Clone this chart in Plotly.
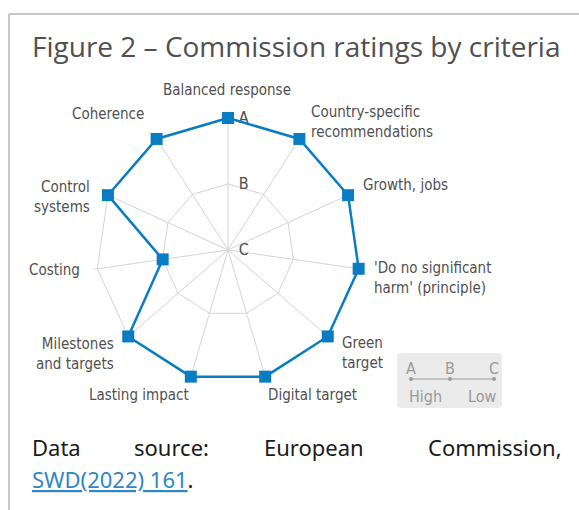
import plotly.graph_objects as go

W, H = 579, 510

categories = [
    "Balanced response",
    "Country-specific recommendations",
    "Growth, jobs",
    "'Do no significant harm' (principle)",
    "Green target",
    "Digital target",
    "Lasting impact",
    "Milestones and targets",
    "Costing",
    "Control systems",
    "Coherence",
]
# label text as printed (line breaks)
category_labels = [
    "Balanced response",
    "Country-specific<br>recommendations",
    "Growth, jobs",
    "'Do no significant<br>harm' (principle)",
    "Green<br>target",
    "Digital target",
    "Lasting impact",
    "Milestones<br>and targets",
    "Costing",
    "Control<br>systems",
    "Coherence",
]
ratings = ["A", "A", "A", "A", "A", "A", "A", "A", "B", "A", "A"]
scale_letters = ["C", "B", "A"]  # low -> high
scale_values = [0, 1, 2]

score = dict(zip(scale_letters, scale_values))
r_vals = [score[g] for g in ratings]

BLUE = "#0a7dc2"
GRID = "#d4d4d4"
TXT = "#505050"
NARROW = "DejaVu Sans Condensed, Liberation Sans Narrow, Roboto, sans-serif"

def px(x):
    return x / W

def py(y):
    return 1 - y / H

R_MAX = 2.05                # small headroom so the outer line is not clipped
cx, cy = 228, 250
rad = 132 * R_MAX / 2

fig = go.Figure()
fig.add_trace(go.Scatterpolar(
    r=r_vals + r_vals[:1],
    theta=categories + categories[:1],
    mode="lines+markers",
    line=dict(color=BLUE, width=2.5),
    marker=dict(symbol="square", size=12, color=BLUE),
    cliponaxis=False,
    hoverinfo="skip",
    showlegend=False,
))

fig.update_layout(
    width=W, height=H,
    margin=dict(l=0, r=0, t=0, b=0),
    paper_bgcolor="white",
    plot_bgcolor="white",
    showlegend=False,
    polar=dict(
        domain=dict(x=[px(cx - rad), px(cx + rad)], y=[py(cy + rad), py(cy - rad)]),
        bgcolor="rgba(0,0,0,0)",
        gridshape="linear",
        angularaxis=dict(
            direction="clockwise",
            rotation=90,
            showline=False,
            gridcolor=GRID,
            gridwidth=1,
            ticks="",
            showticklabels=False,
            layer="below traces",
        ),
        radialaxis=dict(
            range=[0, R_MAX],
            tickvals=scale_values,
            ticktext=scale_letters,
            angle=90,
            showline=False,
            gridcolor=GRID,
            gridwidth=1,
            ticks="outside",
            ticklen=7,
            tickcolor="rgba(0,0,0,0)",
            tickangle=90,
            tickfont=dict(family=NARROW, size=16, color=TXT),
            layer="below traces",
        ),
    ),
)

# category labels placed around the radar (x, y in px, horizontal anchor)
label_layout = [
    (227, 90, "center"),
    (309, 122, "left"),
    (361, 185, "left"),
    (372, 278, "left"),
    (340, 353, "left"),
    (312, 395, "center"),
    (139, 395, "center"),
    (116, 354, "right"),
    (82, 270, "right"),
    (92, 197, "right"),
    (146, 114, "right"),
]
for text, (lx, ly, anc) in zip(category_labels, label_layout):
    fig.add_annotation(x=px(lx), y=py(ly), xref="paper", yref="paper", text=text, showarrow=False,
                       xanchor=anc, yanchor="middle", align=anc,
                       font=dict(family=NARROW, size=15, color=TXT))

# frame
fig.add_shape(type="line", xref="paper", yref="paper", x0=px(9), x1=1, y0=py(14), y1=py(14),
              line=dict(color="#c8c8c8", width=2))
fig.add_shape(type="line", xref="paper", yref="paper", x0=px(9), x1=px(9), y0=py(14), y1=0,
              line=dict(color="#c8c8c8", width=2))

# title
fig.add_annotation(x=px(30), y=py(46), xref="paper", yref="paper", xanchor="left", yanchor="middle",
                   text="Figure 2 – Commission ratings by criteria", showarrow=False,
                   font=dict(family="Open Sans, sans-serif", size=28, color=TXT))

# legend box
x0, x1, y0, y1, rr = 397, 502, 353, 408, 4
path = (f"M {px(x0+rr)} {py(y0)} L {px(x1-rr)} {py(y0)} Q {px(x1)} {py(y0)} {px(x1)} {py(y0+rr)} "
        f"L {px(x1)} {py(y1-rr)} Q {px(x1)} {py(y1)} {px(x1-rr)} {py(y1)} "
        f"L {px(x0+rr)} {py(y1)} Q {px(x0)} {py(y1)} {px(x0)} {py(y1-rr)} "
        f"L {px(x0)} {py(y0+rr)} Q {px(x0)} {py(y0)} {px(x0+rr)} {py(y0)} Z")
fig.add_shape(type="path", xref="paper", yref="paper", path=path, fillcolor="#ebebeb",
              line=dict(width=0), layer="below")
LG = "#9a9a9a"
fig.add_shape(type="line", xref="paper", yref="paper", x0=px(411), x1=px(494), y0=py(379), y1=py(379),
              line=dict(color=LG, width=1))
legend_x = [411, 450, 494]
for lx, letter in zip(legend_x, ["A", "B", "C"]):
    fig.add_shape(type="circle", xref="paper", yref="paper", x0=px(lx - 2), x1=px(lx + 2),
                  y0=py(381), y1=py(377), fillcolor=LG, line=dict(width=0))
    fig.add_annotation(x=px(lx), y=py(368), xref="paper", yref="paper", text=letter, showarrow=False,
                       font=dict(family=NARROW, size=16, color=LG), xanchor="center", yanchor="middle")
fig.add_annotation(x=px(407), y=py(396), xref="paper", yref="paper", text="High", showarrow=False,
                   font=dict(family=NARROW, size=16, color=LG), xanchor="left", yanchor="middle")
fig.add_annotation(x=px(499), y=py(396), xref="paper", yref="paper", text="Low", showarrow=False,
                   font=dict(family=NARROW, size=16, color=LG), xanchor="right", yanchor="middle")

# footer (justified first line)
FOOT = dict(family="Noto Sans, sans-serif", size=22, color="#1a1a1a")
for word, wx, anc in [("Data", 30, "left"), ("source:", 132, "left"),
                      ("European", 262, "left"), ("Commission,", 564, "right")]:
    fig.add_annotation(x=px(wx), y=py(447), xref="paper", yref="paper", text=word, showarrow=False,
                       font=FOOT, xanchor=anc, yanchor="middle")
fig.add_annotation(x=px(30), y=py(479), xref="paper", yref="paper",
                   text="<span style='color:#2f86c8'><u>SWD(2022) 161</u></span>.", showarrow=False,
                   font=FOOT, xanchor="left", yanchor="middle")

fig.write_html("out.html", config={"displayModeBar": False},
               post_script="document.body.style.margin='0';")
